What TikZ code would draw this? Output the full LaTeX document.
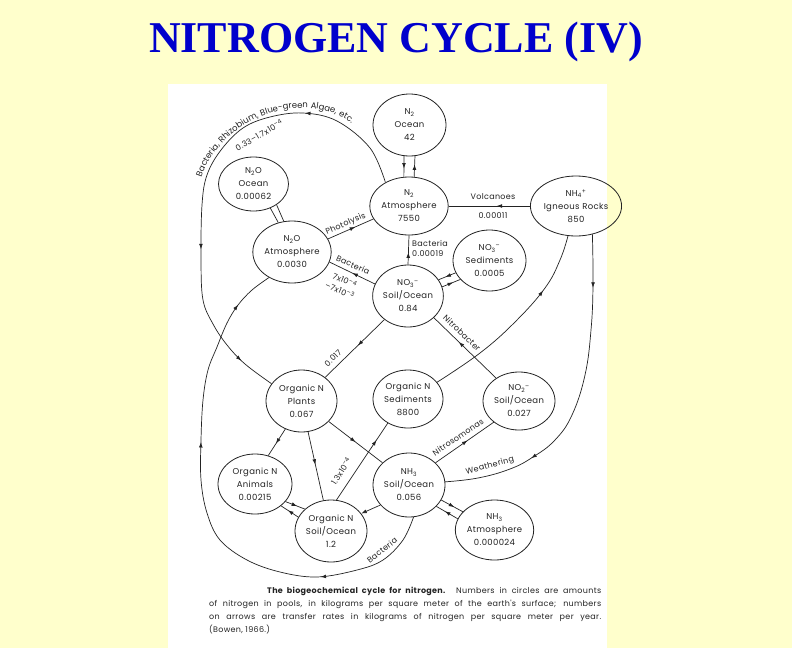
\documentclass[tikz,border=0pt]{standalone}
\usepackage{fontspec}
\setmainfont{Liberation Serif}
\newfontfamily\lab[LetterSpace=4]{Poppins}
\usetikzlibrary{shapes.geometric,arrows.meta,decorations.markings,decorations.text}
\definecolor{bgyellow}{RGB}{255,255,204}
\definecolor{titleblue}{RGB}{0,0,204}
\definecolor{ink}{RGB}{35,35,35}
\newcommand\arcfmt{\lab\fontsize{8.5}{10}\selectfont\color{ink}}
\begin{document}
\begin{tikzpicture}[x=1pt,y=-1pt,
  >={Latex[length=5.5pt,width=3.8pt]},
  pool/.style={draw=ink, line width=0.8pt, ellipse, inner sep=0pt, align=center, text=ink,
    font=\lab\fontsize{8.5}{13}\selectfont},
  flow/.style={draw=ink, line width=0.7pt},
  lbl/.style={text=ink, inner sep=0pt, font=\lab\fontsize{8}{10}\selectfont},
  arr/.style={postaction={decorate}, decoration={markings, mark=at position #1 with {\arrow{>}}}},
]
\useasboundingbox (0,0) rectangle (792,648);
\fill[bgyellow] (0,0) rectangle (792,648);
\fill[white] (168,84) rectangle (607,648);

\node[font=\fontsize{44}{48}\selectfont\bfseries, text=titleblue, anchor=base] (title) at (396,52) {NITROGEN CYCLE (IV)};

% pools
\node[pool, minimum width=73, minimum height=62] (n2oc) at (409.5,125) {N\textsubscript{2}\\Ocean\\42};
\node[pool, minimum width=72, minimum height=58] (n2atm) at (409,206) {N\textsubscript{2}\\Atmosphere\\7550};
\node[pool, minimum width=66, minimum height=60] (nh4) at (576,206) {NH\textsubscript{4}\textsuperscript{+}\\Igneous Rocks\\850};
\node[pool, minimum width=70, minimum height=54] (n2ooc) at (253.5,184) {N\textsubscript{2}O\\Ocean\\0.00062};
\node[pool, minimum width=70, minimum height=62] (n2oatm) at (292,252) {N\textsubscript{2}O\\Atmosphere\\0.0030};
\node[pool, minimum width=70, minimum height=62] (no3s) at (408,296) {NO\textsubscript{3}\textsuperscript{–}\\Soil/Ocean\\0.84};
\node[pool, minimum width=73, minimum height=61] (no3sed) at (489.5,260.5) {NO\textsubscript{3}\textsuperscript{–}\\Sediments\\0.0005};
\node[pool, minimum width=71, minimum height=62] (plants) at (301.5,401) {Organic N\\Plants\\0.067};
\node[pool, minimum width=70, minimum height=58] (orgsed) at (408,399) {Organic N\\Sediments\\8800};
\node[pool, minimum width=72, minimum height=58] (no2) at (519,401) {NO\textsubscript{2}\textsuperscript{–}\\Soil/Ocean\\0.027};
\node[pool, minimum width=72, minimum height=64] (nh3s) at (409,485) {NH\textsubscript{3}\\Soil/Ocean\\0.056};
\node[pool, minimum width=71, minimum height=60] (nh3a) at (494.5,530) {NH\textsubscript{3}\\Atmosphere\\0.000024};
\node[pool, minimum width=74, minimum height=60] (animals) at (255,484) {Organic N\\Animals\\0.00215};
\node[pool, minimum width=72, minimum height=62] (orgsoil) at (331,531) {Organic N\\Soil/Ocean\\1.2};

% N2 ocean <-> atmosphere
\draw[flow, arr=0.6] (n2oc.-100) -- (n2atm.100);
\draw[flow, arr=0.6] (n2atm.80) -- (n2oc.-80);

% N2O ocean <-> atmosphere
\draw[flow] (n2ooc.-55) -- (n2oatm.115);
\draw[flow] (n2ooc.-42) -- (n2oatm.105);

% photolysis
\draw[flow, arr=0.6] (n2oatm.20) -- node[lbl, sloped, above=2pt, pos=0.45] {Photolysis} (n2atm.200);

% denitrification to N2O
\draw[flow, arr=0.5] (no3s.160) -- (n2oatm.-15);
\node[lbl, rotate=-24] at (353,265) {Bacteria};
\node[lbl, rotate=-24] at (345,280) {7x10\textsuperscript{–4}};
\node[lbl, rotate=-24] at (340,290) {–7x10\textsuperscript{–3}};

% NO3 -> N2
\draw[flow, arr=0.42] (no3s.north) -- (n2atm.south);
\node[lbl, anchor=west] at (412,243) {Bacteria};
\node[lbl, anchor=west] at (412,253.5) {0.00019};

% NO3 soil <-> sediments
\draw[flow, arr=0.6] (no3sed.200) -- (no3s.28);
\draw[flow, arr=0.6] (no3s.15) -- (no3sed.213);

% volcanoes
\draw[flow, arr=0.41] (nh4.west) -- (n2atm.east);
\node[lbl] at (493,197) {Volcanoes};
\node[lbl] at (493,216) {0.00011};

% weathering
\draw[flow, postaction={decorate}, decoration={markings,
    mark=at position 0.16 with {\arrow{>}}, mark=at position 0.73 with {\arrow{>}}}]
  plot[smooth, tension=0.7] coordinates {(nh4.-60) (593,285) (591,330) (585,375) (572,415) (555,440) (533,457) (510,469) (478,478) (nh3s.5)};
\node[lbl, rotate=15] at (490,466) {Weathering};

% organic sediments -> igneous rocks
\draw[flow, postaction={decorate}, decoration={markings, mark=at position 0.7 with {\arrow{>}}}]
  plot[smooth, tension=0.7] coordinates {(orgsed.30) (480,353) (515,322) (545,288) (560,260) (nh4.-105)};

% NO3 -> plants
\draw[flow, arr=0.45] (no3s.-135) -- (plants.45);
\node[lbl, rotate=44] at (333,358) {0.017};

% nitrobacter
\draw[flow, arr=0.6] (no2.135) -- (no3s.-40);
\node[lbl, rotate=-44] at (462,333) {Nitrobacter};

% nitrosomonas
\draw[flow, arr=0.55] (nh3s.40) -- (no2.220);
\node[lbl, rotate=34] at (458,437) {Nitrosomonas};

% plants outflows
\draw[flow, arr=0.55] (plants.-120) -- (animals.65);
\draw[flow, arr=0.48] (plants.-78) -- (orgsoil.104);
\draw[flow, arr=0.5] (plants.-37) -- (nh3s.140);

% organic soil -> organic sediments
\draw[flow, arr=0.78] (orgsoil.80) -- (orgsed.-130);
\node[lbl, rotate=57] at (341,471) {1.3x10\textsuperscript{–4}};

% NH3 -> organic soil
\draw[flow, ->] (nh3s.-145) -- (orgsoil.30);

% animals <-> organic soil
\draw[flow, arr=0.6] (animals.-30) -- (orgsoil.140);
\draw[flow, arr=0.6] (orgsoil.157) -- (animals.-40);

% NH3 soil <-> NH3 atmosphere
\draw[flow, arr=0.6] (nh3s.-25) -- (nh3a.150);
\draw[flow, arr=0.6] (nh3a.163) -- (nh3s.-38);

% fixation arc
\draw[flow, postaction={decorate}, decoration={markings,
    mark=at position 0.24 with {\arrow{>}}, mark=at position 0.66 with {\arrow{>}},
    mark=at position 0.92 with {\arrow{>}}}]
  plot[smooth, tension=0.6] coordinates {(n2atm.135) (370,148) (337,121) (303,113) (270,117) (243,128) (221,150) (207,175) (202,205) (201,260) (203,300) (213,324) (227,345) (245,364) (plants.150)};
\coordinate (ta) at (198,192);
\coordinate (tb) at (303,108);
\coordinate (tc) at (362,134);
\path[decorate, decoration={text along path,
    text={|\arcfmt|Bacteria,  Rhizobium,  Blue-green  Algae,  etc.},
    text align=center}]
  (ta) .. controls (203,148) and (250,108) .. (tb) .. controls (330,108) and (350,118) .. (tc);
\node[lbl, rotate=30] at (259,135) {0.33–1.7x10\textsuperscript{–4}};

% denitrification loop NH3 -> N2O
\draw[flow, postaction={decorate}, decoration={markings,
    mark=at position 0.23 with {\arrow{>}}, mark=at position 0.64 with {\arrow{>}},
    mark=at position 0.92 with {\arrow{>}}}]
  plot[smooth, tension=0.6] coordinates {(nh3s.-82) (403,540) (383,560) (357,570) (317,577) (280,572) (247,560) (220,540) (207,513) (201,480) (201,440) (203,400) (208,370) (217,347) (227,323) (238,305) (252,290) (n2oatm.228)};
\node[lbl, rotate=38] at (382,550) {Bacteria};

% caption
\node[anchor=north west, text width=392pt, align=justify, inner sep=0pt, text=ink,
  font=\lab\fontsize{8}{12.8}\selectfont] (cap) at (209,587)
  {\hspace*{58pt}\textbf{The biogeochemical cycle for nitrogen.} Numbers in circles are amounts\linebreak
   of nitrogen in pools, in kilograms per square meter of the earth's surface; numbers\linebreak
   on arrows are transfer rates in kilograms of nitrogen per square meter per year.\linebreak
   (Bowen, 1966.)};
\end{tikzpicture}
\end{document}
